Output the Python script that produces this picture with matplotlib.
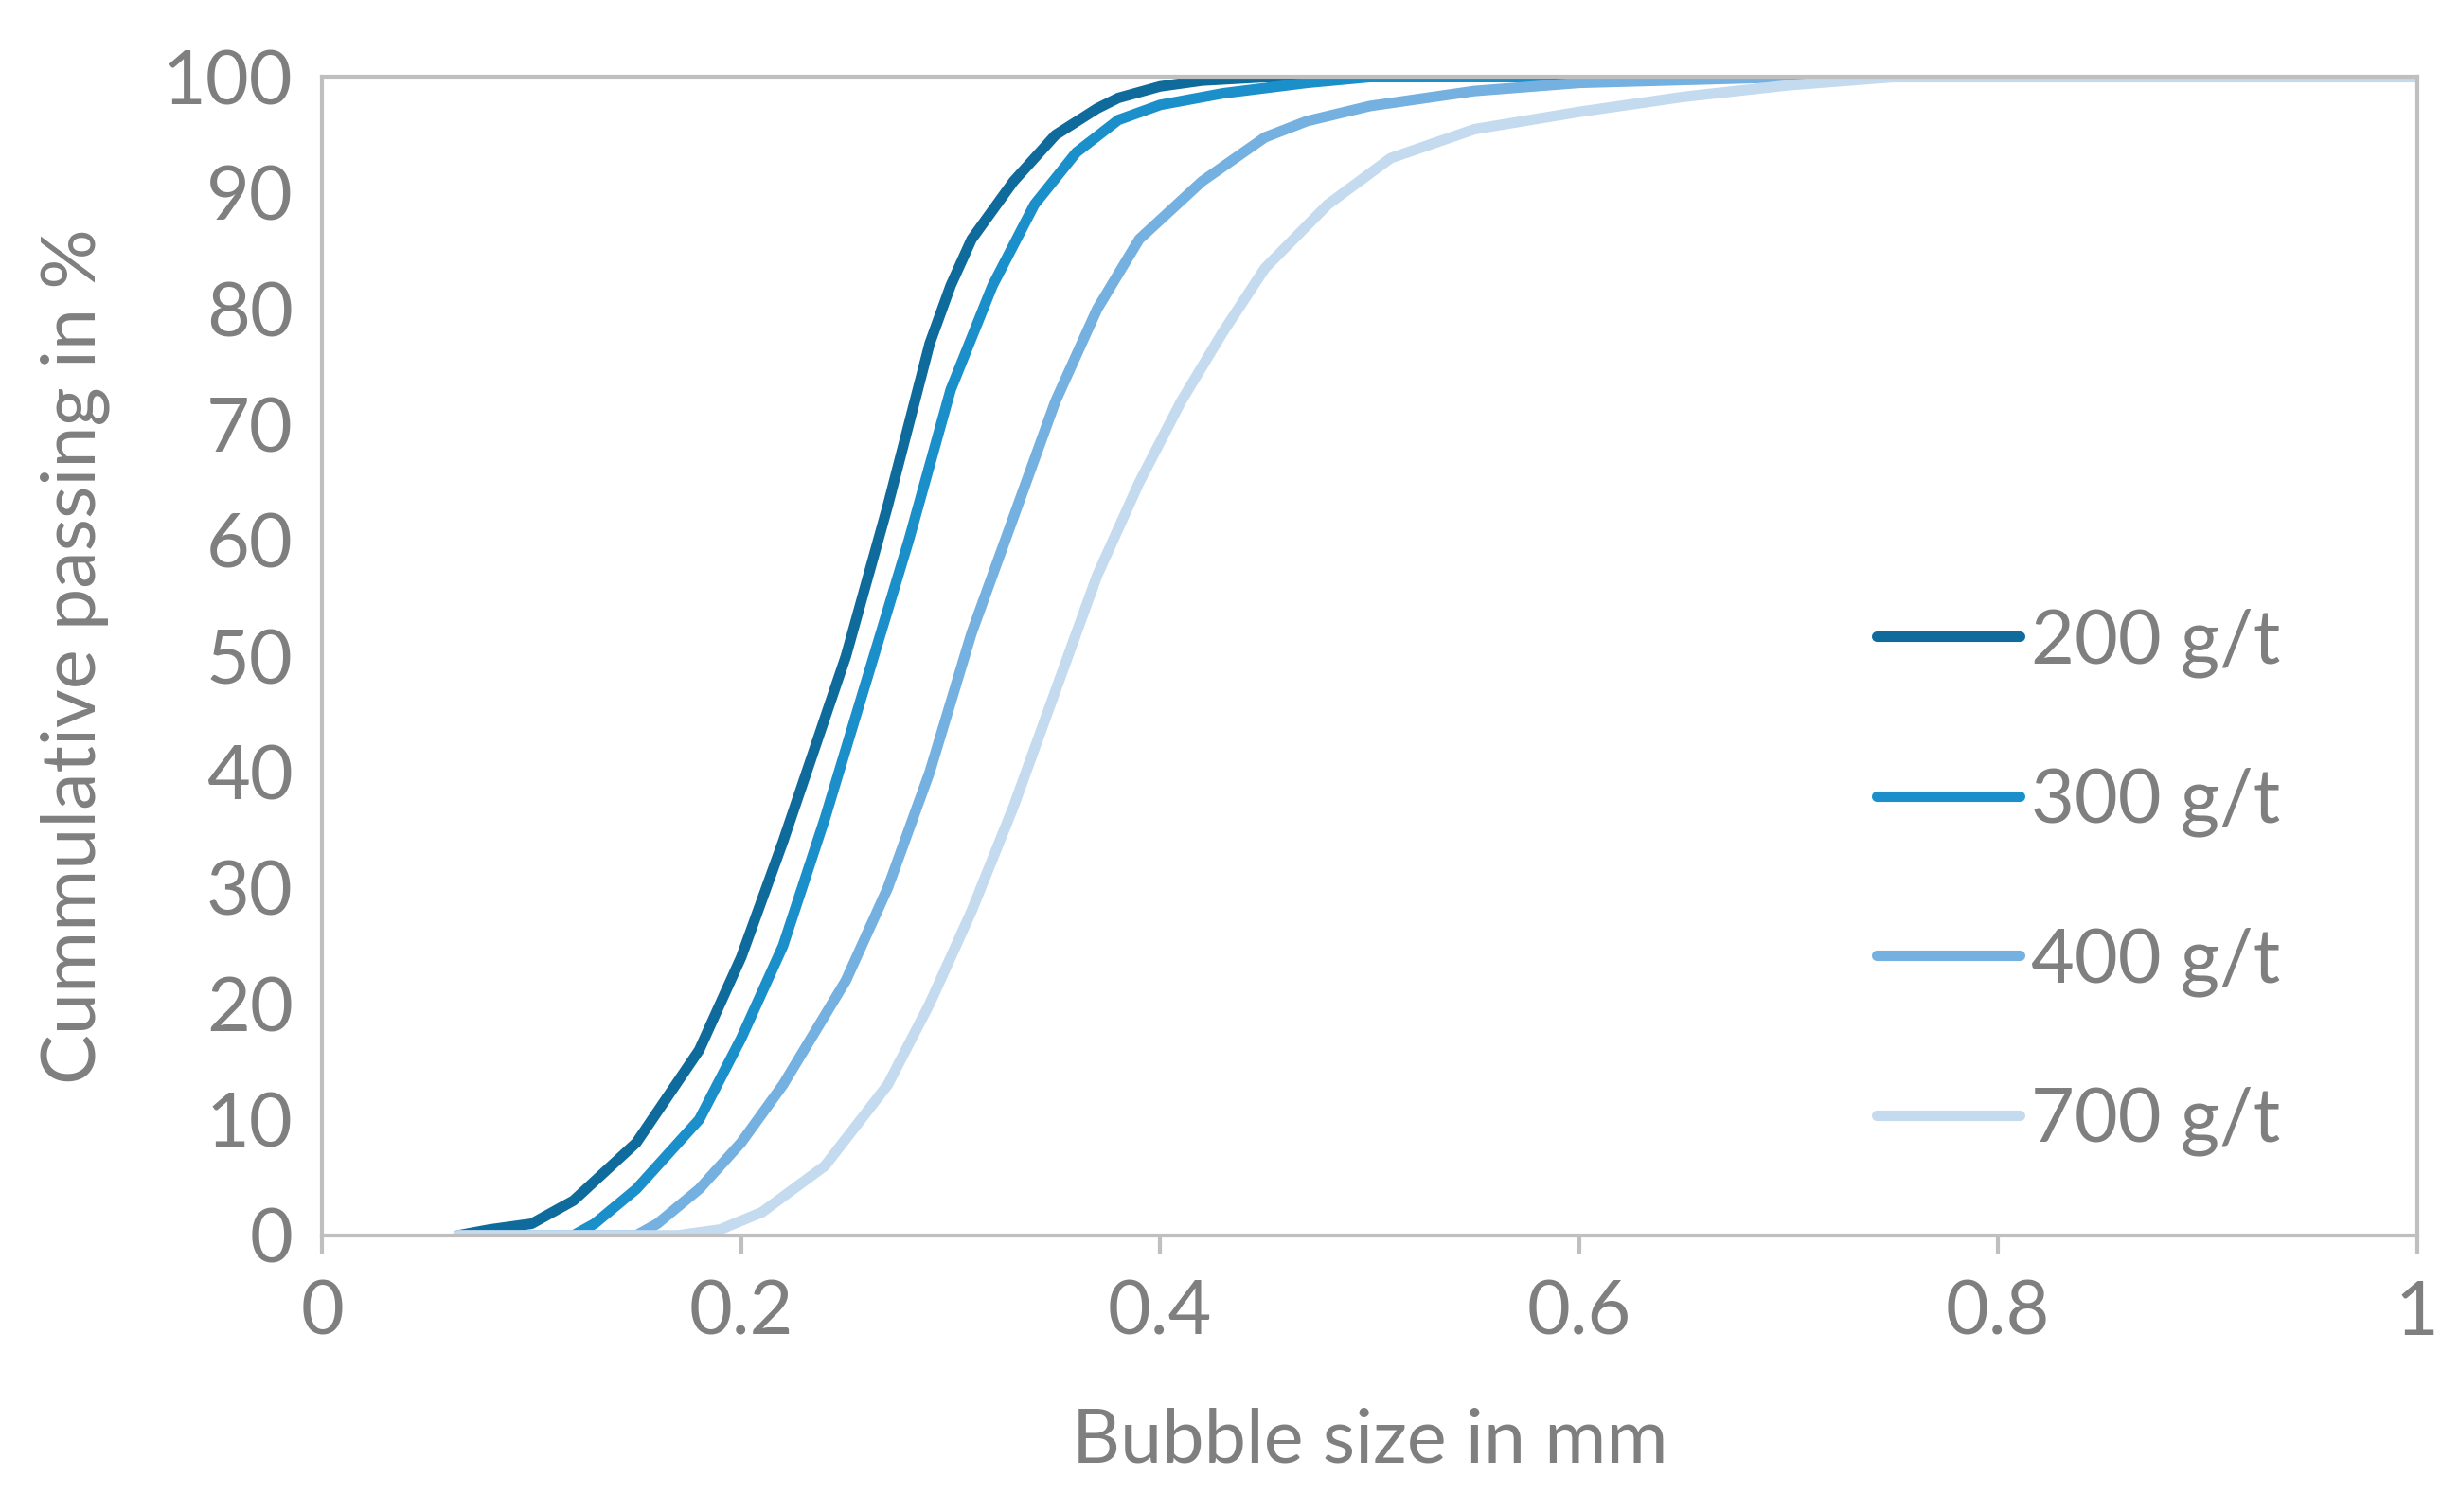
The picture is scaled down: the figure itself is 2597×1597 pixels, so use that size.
import matplotlib.pyplot as plt

plt.rcParams['font.family'] = ['Lato', 'DejaVu Sans']

# Cumulative passing curves
x_200 = [0.065, 0.08, 0.1, 0.12, 0.15, 0.18, 0.2, 0.22, 0.25, 0.27, 0.29, 0.3, 0.31, 0.33, 0.35, 0.37, 0.38, 0.4, 0.42, 0.45, 1.0]
y_200 = [0, 0.5, 1, 3, 8, 16, 24, 34, 50, 63, 77, 82, 86, 91, 95, 97.3, 98.2, 99.2, 99.7, 100, 100]
x_300 = [0.12, 0.13, 0.15, 0.18, 0.2, 0.22, 0.24, 0.26, 0.28, 0.3, 0.32, 0.34, 0.36, 0.38, 0.4, 0.43, 0.47, 0.5, 1.0]
y_300 = [0, 1, 4, 10, 17, 25, 36, 48, 60, 73, 82, 89, 93.5, 96.3, 97.6, 98.6, 99.5, 100, 100]
x_400 = [0.065, 0.15, 0.16, 0.18, 0.2, 0.22, 0.25, 0.27, 0.29, 0.31, 0.33, 0.35, 0.37, 0.39, 0.42, 0.45, 0.47, 0.5, 0.55, 0.6, 0.7, 1.0]
y_400 = [0, 0, 1, 4, 8, 13, 22, 30, 40, 52, 62, 72, 80, 86, 91, 94.8, 96.2, 97.5, 98.8, 99.5, 100, 100]
x_700 = [0.065, 0.17, 0.19, 0.21, 0.24, 0.27, 0.29, 0.31, 0.33, 0.35, 0.37, 0.39, 0.41, 0.43, 0.45, 0.48, 0.51, 0.55, 0.6, 0.65, 0.7, 0.75, 1.0]
y_700 = [0, 0, 0.5, 2, 6, 13, 20, 28, 37, 47, 57, 65, 72, 78, 83.5, 89, 93, 95.5, 97, 98.3, 99.3, 100, 100]

labels = ['200 g/t', '300 g/t', '400 g/t', '700 g/t']
colors = ['#0f6b9b', '#1a8fca', '#74b0e0', '#c3daef']
series = [(x_200, y_200), (x_300, y_300), (x_400, y_400), (x_700, y_700)]

fig = plt.figure(figsize=(25.97, 15.97), dpi=100)
ax = fig.add_axes([0.131, 0.183, 0.852, 0.766])

for (xs, ys), lab, col in zip(series, labels, colors):
    ax.plot(xs, ys, color=col, lw=8, label=lab, solid_capstyle='round', solid_joinstyle='round')

ax.set_xlim(0, 1)
ax.set_ylim(0, 100)
ax.set_xticks([0, 0.2, 0.4, 0.6, 0.8, 1])
ax.set_xticklabels(['0', '0.2', '0.4', '0.6', '0.8', '1'])
ax.set_yticks(range(0, 101, 10))

grey = '#7f7f7f'
for s in ax.spines.values():
    s.set_color('#bfbfbf')
    s.set_linewidth(3)
ax.tick_params(axis='x', colors='#bfbfbf', length=14, width=3, labelcolor=grey, labelsize=57, pad=20)
ax.tick_params(axis='y', length=0, labelcolor=grey, labelsize=57, pad=22)

ax.set_xlabel('Bubble size in mm', color=grey, fontsize=57, labelpad=45)
ax.set_ylabel('Cummulative passing in %', color=grey, fontsize=57, labelpad=40)

leg = ax.legend(loc='upper left', bbox_to_anchor=(0.71, 0.6), frameon=False,
                fontsize=57, handlelength=1.9, handletextpad=0.15, labelspacing=1.2)
for t in leg.get_texts():
    t.set_color(grey)

fig.savefig('out.png', dpi=100)
